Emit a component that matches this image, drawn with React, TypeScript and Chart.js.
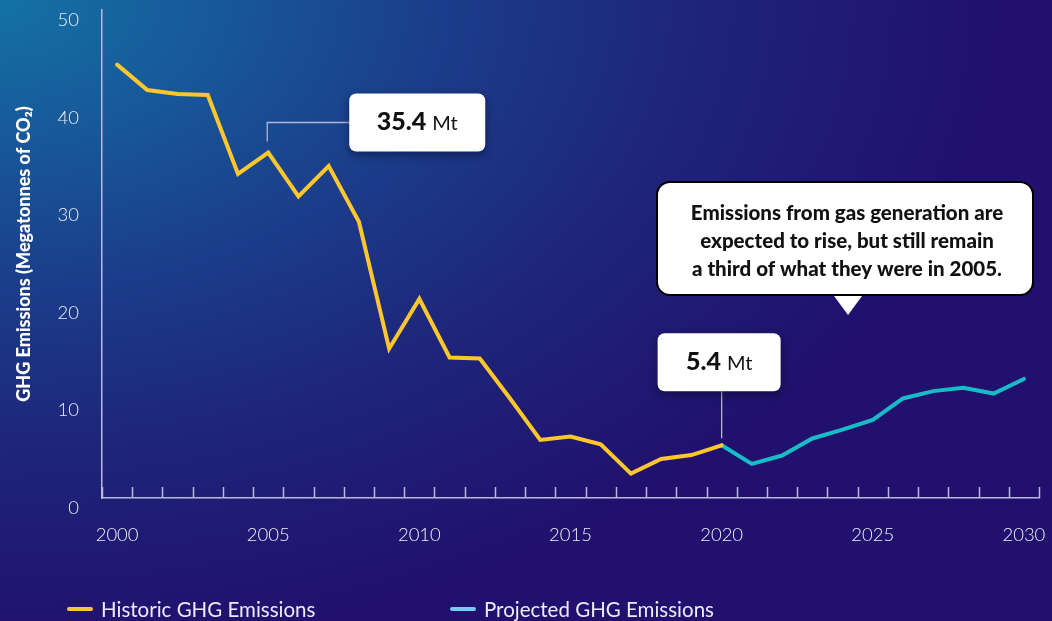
import React, { useEffect, useRef } from "react";
import { Chart, registerables } from "chart.js";

Chart.register(...registerables);

const years: string[] = [
  "2000","2001","2002","2003","2004","2005","2006","2007","2008","2009","2010",
  "2011","2012","2013","2014","2015","2016","2017","2018","2019","2020",
  "2021","2022","2023","2024","2025","2026","2027","2028","2029","2030",
];

const historic: (number | null)[] = [
  44.4, 41.8, 41.4, 41.3, 33.2, 35.4, 30.9, 34.0, 28.3, 15.3, 20.4,
  14.4, 14.3, 10.2, 5.95, 6.3, 5.5, 2.5, 4.0, 4.4, 5.4,
  null, null, null, null, null, null, null, null, null, null,
];

const projected: (number | null)[] = [
  null, null, null, null, null, null, null, null, null, null, null,
  null, null, null, null, null, null, null, null, null, 5.4,
  3.5, 4.35, 6.1, 7.0, 8.0, 10.2, 10.95, 11.3, 10.7, 12.2,
];

const yTicks: number[] = [0, 10, 20, 30, 40, 50];
const labelYears: string[] = ["2000", "2005", "2010", "2015", "2020", "2025", "2030"];

const calloutA = { index: 5, value: 35.4, label: "35.4", unit: "Mt" };
const calloutB = { index: 20, value: 5.4, label: "5.4", unit: "Mt" };
const bubbleLines: string[] = [
  "Emissions from gas generation are",
  "expected to rise, but still remain",
  "a third of what they were in 2005.",
];

const legendItems = [
  { text: "Historic GHG Emissions", color: "#ffc72c" },
  { text: "Projected GHG Emissions", color: "#74cdf0" },
];

const AXIS_COLOR = "#b9b8e0";
const FONT = "Lato, 'Open Sans', sans-serif";

function roundRect(ctx: CanvasRenderingContext2D, x: number, y: number, w: number, h: number, r: number) {
  ctx.beginPath();
  ctx.moveTo(x + r, y);
  ctx.lineTo(x + w - r, y);
  ctx.arcTo(x + w, y, x + w, y + r, r);
  ctx.lineTo(x + w, y + h - r);
  ctx.arcTo(x + w, y + h, x + w - r, y + h, r);
  ctx.lineTo(x + r, y + h);
  ctx.arcTo(x, y + h, x, y + h - r, r);
  ctx.lineTo(x, y + r);
  ctx.arcTo(x, y, x + r, y, r);
  ctx.closePath();
}

function drawValueBox(ctx: CanvasRenderingContext2D, bx: number, by: number, bw: number, bh: number, label: string, unit: string) {
  ctx.save();
  ctx.shadowColor = "rgba(0,0,20,0.45)";
  ctx.shadowBlur = 10;
  ctx.shadowOffsetY = 3;
  ctx.fillStyle = "#ffffff";
  roundRect(ctx, bx, by, bw, bh, 7);
  ctx.fill();
  ctx.restore();
  ctx.save();
  ctx.fillStyle = "#111111";
  ctx.textBaseline = "alphabetic";
  ctx.font = `900 25px ${FONT}`;
  const w1 = ctx.measureText(label).width;
  ctx.font = `20px ${FONT}`;
  const sp = 6;
  const w2 = ctx.measureText(unit).width;
  const total = w1 + sp + w2;
  const sx = bx + bw / 2 - total / 2;
  const base = by + bh / 2 + 8;
  ctx.font = `900 25px ${FONT}`;
  ctx.fillText(label, sx, base);
  ctx.font = `20px ${FONT}`;
  ctx.fillText(unit, sx + w1 + sp, base);
  ctx.restore();
}

const annotationPlugin = {
  id: "annotations",
  afterDraw(chart: any) {
    const { ctx } = chart;
    const x = chart.scales.x;
    const y = chart.scales.y;
    const area = chart.chartArea;

    // tick marks (upwards from the axis, at category boundaries)
    ctx.save();
    ctx.strokeStyle = AXIS_COLOR;
    ctx.lineWidth = 1.5;
    for (let i = 0; i <= years.length; i++) {
      const px = Math.round(x.getPixelForValue(i - 0.5)) + 0.5;
      ctx.beginPath();
      ctx.moveTo(px, area.bottom);
      ctx.lineTo(px, area.bottom - 11);
      ctx.stroke();
    }
    ctx.restore();

    // callout A (2005)
    {
      const px = x.getPixelForValue(calloutA.index);
      const py = y.getPixelForValue(calloutA.value);
      const bx = px + 81, bw = 136, bh = 58;
      const by = py - 59;
      const cy = py - 30;
      ctx.save();
      ctx.strokeStyle = "#b4b6d2";
      ctx.lineWidth = 1.3;
      ctx.beginPath();
      ctx.moveTo(px - 1, py - 11);
      ctx.lineTo(px - 1, cy);
      ctx.lineTo(bx, cy);
      ctx.stroke();
      ctx.restore();
      drawValueBox(ctx, bx, by, bw, bh, calloutA.label, calloutA.unit);
    }

    // callout B (2020)
    {
      const px = x.getPixelForValue(calloutB.index);
      const py = y.getPixelForValue(calloutB.value);
      const bw = 123, bh = 58;
      const bx = px - 64;
      const by = py - 112;
      ctx.save();
      ctx.strokeStyle = "#b4b6d2";
      ctx.lineWidth = 1.3;
      ctx.beginPath();
      ctx.moveTo(px, by + bh);
      ctx.lineTo(px, py - 7);
      ctx.stroke();
      ctx.restore();
      drawValueBox(ctx, bx, by, bw, bh, calloutB.label, calloutB.unit);
    }

    // speech bubble
    {
      const tipX = x.getPixelForValue(24) + 5.5;
      const bx = 657, by = 182, bw = 376, bh = 113;
      ctx.save();
      ctx.fillStyle = "#ffffff";
      ctx.strokeStyle = "#000000";
      ctx.lineWidth = 2;
      roundRect(ctx, bx, by, bw, bh, 13);
      ctx.fill();
      ctx.stroke();
      ctx.beginPath();
      ctx.moveTo(tipX - 14, by + bh + 1);
      ctx.lineTo(tipX + 14, by + bh + 1);
      ctx.lineTo(tipX, by + bh + 20);
      ctx.closePath();
      ctx.fill();
      ctx.fillStyle = "#111111";
      ctx.font = `900 20.5px ${FONT}`;
      ctx.textAlign = "center";
      ctx.textBaseline = "alphabetic";
      bubbleLines.forEach((l, i) => {
        ctx.fillText(l, bx + bw / 2 + 2, by + 38 + i * 28);
      });
      ctx.restore();
    }
  },
};

export default function App() {
  const ref = useRef<HTMLCanvasElement | null>(null);

  useEffect(() => {
    document.body.style.margin = "0";
    if (!ref.current) return;
    const chart = new Chart(ref.current, {
      type: "line",
      data: {
        labels: years,
        datasets: [
          {
            label: legendItems[0].text,
            data: historic,
            borderColor: "#ffc72c",
            borderWidth: 4,
            pointRadius: 0,
            tension: 0,
            borderCapStyle: "round",
            borderJoinStyle: "miter",
            spanGaps: false,
          },
          {
            label: legendItems[1].text,
            data: projected,
            borderColor: "#17bcc6",
            borderWidth: 4,
            pointRadius: 0,
            tension: 0,
            borderCapStyle: "round",
            borderJoinStyle: "miter",
            spanGaps: false,
          },
        ],
      },
      options: {
        animation: false,
        responsive: false,
        maintainAspectRatio: false,
        layout: { padding: { top: 10, right: 13, left: 0, bottom: 0 } },
        plugins: {
          legend: { display: false },
          tooltip: { enabled: false },
        },
        scales: {
          x: {
            type: "category",
            offset: true,
            grid: { display: false, offset: true },
            border: { display: true, color: AXIS_COLOR, width: 1.5 },
            afterFit: (s: any) => {
              s.height = 123;
              s.paddingLeft = 0;
              s.paddingRight = 0;
            },
            ticks: {
              autoSkip: false,
              maxRotation: 0,
              padding: 18,
              color: "#eeeef8",
              font: { family: FONT, size: 18.5, weight: "300" as any },
              callback: (_v: any, i: number) => (labelYears.includes(years[i]) ? years[i] : ""),
            },
          },
          y: {
            min: 0,
            max: 50,
            afterFit: (s: any) => {
              s.width = 102;
              s.paddingTop = 0;
              s.paddingBottom = 0;
            },
            afterBuildTicks: (s: any) => { s.ticks = yTicks.map((v) => ({ value: v })); },
            grid: { display: false },
            border: { display: true, color: AXIS_COLOR, width: 1.5 },
            ticks: {
              padding: 15,
              labelOffset: 10,
              color: "#eeeef8",
              font: { family: FONT, size: 18.5, weight: "300" as any },
            },
            title: {
              display: true,
              text: "GHG Emissions (Megatonnes of CO₂)",
              color: "#ffffff",
              font: { family: FONT, size: 18, weight: "900" as any },
              padding: { top: 13, bottom: 0 },
            },
          },
        },
      },
      plugins: [annotationPlugin],
    });
    return () => chart.destroy();
  }, []);

  return (
    <div
      style={{
        position: "relative",
        width: 1052,
        height: 621,
        overflow: "hidden",
        background:
          "radial-gradient(ellipse 1000px 650px at 0 0, #1472a6 0%, #1b3c8a 45%, #1e2479 70%, #21106d 100%)",
      }}
    >
      <canvas ref={ref} width={1052} height={621} style={{ display: "block" }} />
      {legendItems.map((it, i) => (
        <div
          key={it.text}
          style={{
            position: "absolute",
            left: i === 0 ? 67 : 450,
            top: 598,
            display: "flex",
            alignItems: "center",
            fontFamily: FONT,
            fontSize: 20.5,
            color: "#ecebf7",
            whiteSpace: "nowrap",
            lineHeight: "22px",
          }}
        >
          <span
            style={{
              display: "inline-block",
              width: 26,
              height: 4,
              borderRadius: 2,
              background: it.color,
              marginRight: 8,
            }}
          />
          {it.text}
        </div>
      ))}
    </div>
  );
}
